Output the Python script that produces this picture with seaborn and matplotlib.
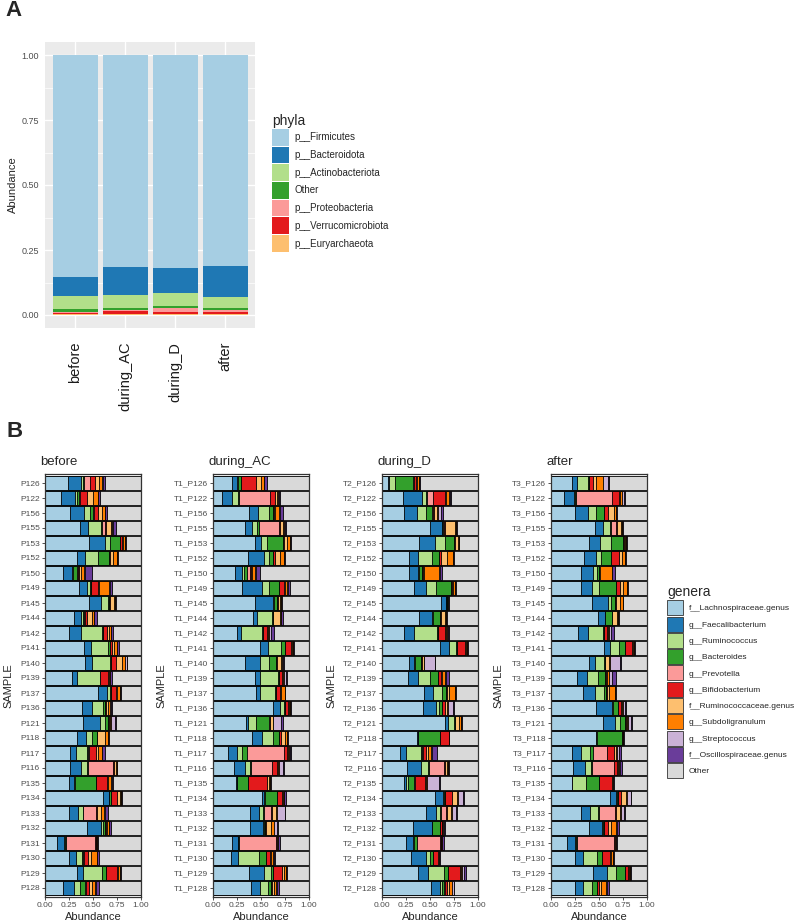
import numpy as np
import pandas as pd
import matplotlib
matplotlib.use("Agg")
import matplotlib.pyplot as plt
import seaborn as sns
from matplotlib.patches import Patch

sns.set_style("white")
plt.rcParams['font.family'] = ['Liberation Sans', 'DejaVu Sans']

# ---------------- Panel A data ----------------
conditions = ["before", "during_AC", "during_D", "after"]
phyla = ["p__Firmicutes", "p__Bacteroidota", "p__Actinobacteriota", "Other",
         "p__Proteobacteria", "p__Verrucomicrobiota", "p__Euryarchaeota"]
firmicutes = [0.853, 0.815, 0.818, 0.812]
bacteroidota = [0.073, 0.107, 0.097, 0.117]
actinobacteriota = [0.051, 0.050, 0.049, 0.044]
phyla_other = [0.010, 0.010, 0.010, 0.007]
proteobacteria = [0.005, 0.004, 0.013, 0.007]
verrucomicrobiota = [0.003, 0.012, 0.010, 0.010]
euryarchaeota = [0.005, 0.002, 0.003, 0.003]
phyla_colors = ["#A6CEE3", "#1F78B4", "#B2DF8A", "#33A02C", "#FB9A99", "#E31A1C", "#FDBF6F"]

# ---------------- Panel B data ----------------
samples = ["P126", "P122", "P156", "P155", "P153", "P152", "P150", "P149", "P145", "P144",
           "P142", "P141", "P140", "P139", "P137", "P136", "P121", "P118", "P117", "P116",
           "P135", "P134", "P133", "P132", "P131", "P130", "P129", "P128"]
genera = ["f__Lachnospiraceae.genus", "g__Faecalibacterium", "g__Ruminococcus", "g__Bacteroides",
          "g__Prevotella", "g__Bifidobacterium", "f__Ruminococcaceae.genus", "g__Subdoligranulum",
          "g__Streptococcus", "f__Oscillospiraceae.genus", "Other"]
genera_colors = ["#A6CEE3", "#1F78B4", "#B2DF8A", "#33A02C", "#FB9A99", "#E31A1C",
                 "#FDBF6F", "#FF7F00", "#CAB2D6", "#6A3D9A", "#D9D9D9"]
facet_prefix = ["", "T1_", "T2_", "T3_"]

# columns: Lachno, Faecali, Rumino, Bacteroides, Prevotella, Bifido, Ruminococcaceae, Subdoligranulum, Strepto, Oscillo
before_vals = [
    [.24, .14, .02, .01, .06, .05, .045, .03, .005, .02],
    [.17, .14, .025, .02, .005, .08, .055, .055, .0, .02],
    [.26, .15, .06, .03, .01, .04, .04, .04, .0, .02],
    [.36, .09, .13, .01, .04, .01, .045, .01, .01, .03],
    [.46, .16, .06, .10, .0, .02, .01, .02, .0, .01],
    [.33, .09, .13, .12, .0, .01, .03, .045, .0, .01],
    [.19, .09, .01, .04, .01, .01, .03, .03, .01, .07],
    [.355, .085, .03, .01, .0, .07, .01, .11, .005, .025],
    [.46, .12, .08, .005, .0, .01, .04, .015, .0, .01],
    [.30, .07, .03, .01, .01, .02, .05, .025, .0, .025],
    [.25, .12, .22, .01, .0, .05, .015, .02, .0, .02],
    [.41, .07, .18, .015, .0, .02, .02, .03, .0, .025],
    [.42, .07, .19, .005, .0, .05, .065, .03, .02, .005],
    [.285, .05, .235, .005, .0, .08, .01, .01, .0, .02],
    [.55, .095, .03, .01, .0, .05, .015, .03, .0, .01],
    [.39, .095, .12, .015, .0, .02, .02, .02, .005, .015],
    [.40, .17, .05, .04, .0, .005, .01, .01, .04, .01],
    [.33, .10, .055, .055, .0, .005, .08, .035, .0, .01],
    [.265, .055, .12, .01, .005, .075, .02, .04, .005, .03],
    [.265, .105, .07, .005, .26, .015, .015, .01, .0, .01],
    [.245, .055, .01, .225, .0, .115, .01, .03, .005, .015],
    [.605, .06, .005, .015, .0, .065, .035, .01, .0, .005],
    [.25, .095, .05, .005, .135, .01, .04, .03, .005, .035],
    [.44, .145, .015, .025, .0, .01, .015, .015, .005, .02],
    [.13, .065, .015, .005, .31, .01, .0, .005, .0, .01],
    [.25, .07, .07, .01, .01, .04, .03, .06, .005, .02],
    [.33, .07, .19, .05, .0, .11, .01, .02, .005, .01],
    [.19, .11, .06, .06, .005, .03, .03, .04, .005, .03],
]
during_AC_vals = [
    [.20, .055, .01, .025, .005, .15, .05, .035, .005, .03],
    [.095, .10, .07, .01, .32, .055, .015, .015, .01, .01],
    [.38, .09, .115, .035, .0, .015, .015, .035, .01, .03],
    [.33, .08, .05, .02, .21, .005, .035, .01, .005, .02],
    [.44, .06, .065, .165, .0, .005, .035, .035, .0, .01],
    [.36, .17, .055, .045, .0, .02, .05, .04, .0, .01],
    [.23, .075, .015, .03, .04, .01, .01, .03, .005, .045],
    [.305, .21, .07, .105, .0, .045, .015, .025, .01, .02],
    [.44, .19, .01, .025, .0, .01, .025, .01, .0, .01],
    [.42, .04, .15, .01, .0, .01, .07, .01, .0, .015],
    [.255, .035, .225, .01, .0, .035, .01, .01, .02, .04],
    [.49, .085, .13, .05, .0, .055, .01, .015, .0, .005],
    [.335, .155, .095, .07, .0, .015, .035, .01, .01, .01],
    [.435, .05, .195, .01, .0, .03, .01, .01, .025, .01],
    [.445, .04, .16, .01, .0, .04, .01, .04, .005, .005],
    [.62, .08, .04, .01, .0, .035, .01, .01, .0, .005],
    [.34, .02, .085, .14, .005, .005, .025, .005, .08, .02],
    [.41, .105, .105, .07, .0, .015, .04, .025, .0, .01],
    [.155, .10, .05, .05, .385, .035, .01, .01, .005, .01],
    [.22, .115, .05, .01, .22, .055, .01, .01, .04, .01],
    [.235, .01, .005, .115, .0, .20, .015, .01, .0, .01],
    [.515, .015, .01, .13, .0, .05, .01, .01, .0, .02],
    [.385, .095, .045, .01, .07, .01, .04, .015, .075, .01],
    [.39, .13, .01, .01, .005, .01, .05, .035, .025, .01],
    [.20, .06, .005, .01, .385, .01, .005, .005, .0, .015],
    [.185, .075, .22, .07, .005, .035, .015, .02, .015, .01],
    [.37, .16, .07, .02, .0, .10, .02, .02, .0, .01],
    [.40, .085, .085, .03, .005, .01, .02, .02, .01, .02],
]
during_D_vals = [
    [.065, .01, .065, .18, .01, .025, .01, .025, .0, .01],
    [.22, .20, .04, .005, .07, .12, .01, .03, .01, .01],
    [.225, .14, .095, .065, .005, .015, .03, .01, .03, .02],
    [.505, .12, .005, .01, .005, .015, .10, .015, .0, .01],
    [.39, .16, .105, .10, .0, .01, .025, .01, .0, .005],
    [.28, .095, .145, .07, .005, .02, .06, .065, .0, .005],
    [.28, .095, .01, .03, .005, .005, .01, .16, .005, .03],
    [.335, .12, .11, .15, .0, .01, .01, .025, .0, .01],
    [.61, .055, .005, .005, .0, .005, .005, .005, .0, .005],
    [.39, .13, .01, .075, .0, .005, .05, .01, .0, .01],
    [.225, .11, .24, .005, .0, .075, .015, .01, .005, .01],
    [.60, .095, .08, .01, .0, .075, .015, .015, .0, .005],
    [.28, .05, .01, .07, .0, .005, .02, .005, .11, .005],
    [.27, .11, .125, .08, .0, .03, .015, .025, .015, .03],
    [.435, .095, .095, .045, .0, .01, .015, .07, .0, .005],
    [.43, .13, .03, .03, .01, .03, .015, .015, .045, .01],
    [.66, .03, .055, .015, .0, .005, .035, .02, .0, .01],
    [.365, .005, .005, .23, .0, .09, .0, .0, .0, .005],
    [.19, .065, .155, .01, .01, .03, .02, .035, .01, .05],
    [.265, .14, .075, .005, .16, .015, .015, .015, .0, .01],
    [.23, .025, .02, .06, .005, .11, .01, .01, .12, .01],
    [.55, .085, .01, .015, .0, .065, .06, .01, .05, .005],
    [.46, .10, .045, .01, .05, .01, .045, .01, .04, .01],
    [.32, .20, .005, .075, .005, .015, .01, .01, .005, .015],
    [.255, .07, .01, .025, .24, .01, .005, .01, .005, .02],
    [.305, .155, .04, .03, .005, .045, .01, .005, .0, .01],
    [.38, .10, .17, .035, .0, .125, .01, .01, .02, .02],
    [.515, .085, .03, .015, .01, .02, .025, .025, .02, .01],
]
after_vals = [
    [.22, .055, .11, .01, .005, .035, .03, .075, .05, .01],
    [.14, .10, .005, .015, .375, .07, .01, .025, .025, .01],
    [.25, .14, .075, .085, .0, .045, .06, .025, .0, .01],
    [.455, .085, .07, .01, .055, .01, .04, .01, .0, .01],
    [.395, .12, .11, .13, .0, .005, .01, .01, .005, .01],
    [.34, .13, .05, .105, .0, .08, .03, .035, .0, .01],
    [.315, .12, .045, .015, .005, .005, .01, .12, .005, .025],
    [.315, .115, .075, .175, .0, .035, .03, .045, .005, .01],
    [.43, .16, .04, .04, .0, .01, .035, .03, .0, .01],
    [.49, .07, .005, .07, .0, .005, .045, .01, .0, .015],
    [.285, .105, .15, .01, .0, .035, .01, .01, .025, .025],
    [.555, .055, .095, .07, .0, .07, .01, .01, .0, .005],
    [.395, .06, .095, .01, .0, .005, .04, .01, .105, .005],
    [.275, .10, .11, .075, .0, .01, .015, .015, .04, .035],
    [.33, .125, .10, .015, .0, .015, .015, .07, .0, .01],
    [.465, .17, .01, .05, .0, .03, .01, .01, .03, .01],
    [.545, .125, .045, .055, .0, .01, .015, .01, .03, .01],
    [.465, .005, .005, .265, .0, .01, .0, .005, .0, .005],
    [.22, .095, .095, .03, .145, .075, .015, .01, .025, .02],
    [.23, .12, .07, .01, .225, .035, .01, .01, .01, .02],
    [.215, .005, .145, .14, .0, .135, .01, .0, .0, .005],
    [.61, .07, .01, .01, .0, .03, .05, .01, .04, .005],
    [.315, .09, .085, .01, .17, .01, .035, .01, .035, .015],
    [.395, .14, .005, .01, .0, .04, .035, .05, .01, .02],
    [.17, .085, .005, .015, .385, .01, .005, .005, .0, .01],
    [.25, .085, .145, .055, .0, .08, .01, .02, .0, .01],
    [.44, .145, .095, .09, .0, .03, .01, .01, .005, .01],
    [.255, .08, .095, .05, .0, .02, .025, .05, .005, .025],
]
facet_data = [before_vals, during_AC_vals, during_D_vals, after_vals]

GREY30 = "#4D4D4D"
GREY20 = "#333333"
W, H = 800, 923
fig = plt.figure(figsize=(W / 100, H / 100), dpi=100)


def fx(px):
    return px / W


def fy(py):
    return 1 - py / H


# ---------------- Panel A ----------------
axA = fig.add_axes([fx(45), fy(328), fx(210), (328 - 42) / H])
phyla_table = pd.DataFrame({
    "condition": conditions,
    "p__Firmicutes": firmicutes, "p__Bacteroidota": bacteroidota,
    "p__Actinobacteriota": actinobacteriota, "Other": phyla_other,
    "p__Proteobacteria": proteobacteria, "p__Verrucomicrobiota": verrucomicrobiota,
    "p__Euryarchaeota": euryarchaeota,
})
bottom_to_top = phyla[::-1]
cumA = phyla_table[bottom_to_top].cumsum(axis=1)
for name, col in zip(phyla, phyla_colors):
    sns.barplot(x=phyla_table["condition"], y=cumA[name], order=conditions, color=col,
                saturation=1, width=0.9, errorbar=None, linewidth=0, ax=axA)
axA.set_facecolor("#EBEBEB")
axA.set_axisbelow(True)
for s in axA.spines.values():
    s.set_visible(False)
axA.set_xlim(-0.6, 3.6)
axA.set_ylim(-0.05, 1.05)
axA.set_yticks([0, 0.25, 0.5, 0.75, 1.0])
axA.set_yticklabels(["0.00", "0.25", "0.50", "0.75", "1.00"])
axA.set_yticks([0.125, 0.375, 0.625, 0.875], minor=True)
axA.grid(True, which="major", color="white", linewidth=1.0)
axA.grid(True, which="minor", axis="y", color="white", linewidth=0.5)
axA.tick_params(axis="y", which="major", length=3, width=0.6, color=GREY20,
                labelsize=6.5, labelcolor=GREY30, pad=1.5)
axA.tick_params(axis="y", which="minor", length=0)
axA.tick_params(axis="x", length=3, width=0.6, color=GREY20, labelsize=10.5,
                labelcolor="#1A1A1A", pad=7)
for lab in axA.get_xticklabels():
    lab.set_rotation(90)
    lab.set_va("top")
    lab.set_ha("center")
axA.set_xlabel("")
axA.set_ylabel("Abundance", fontsize=8)
axA.yaxis.set_label_coords((13 - 45) / 210, 0.5)
axA.yaxis.label.set_va("center")

handlesA = [Patch(facecolor=c, edgecolor="none", label=p) for p, c in zip(phyla, phyla_colors)]
legA = fig.legend(handles=handlesA, title="phyla", loc="upper left",
                  bbox_to_anchor=(fx(272), fy(114)), frameon=False, fontsize=7,
                  title_fontsize=10, handlelength=1.75, handleheight=2.27,
                  labelspacing=0.1, handletextpad=0.6, borderpad=0, borderaxespad=0)
legA._legend_box.align = "left"

# ---------------- Panel B ----------------
facet_left = [45, 213, 382, 551]
sample_label_x = [8, 161, 331, 498]
top_px, bot_px = 474, 897
for i, (cond, vals, pre) in enumerate(zip(conditions, facet_data, facet_prefix)):
    ax = fig.add_axes([fx(facet_left[i]), fy(bot_px), fx(96), (bot_px - top_px) / H])
    labels = [pre + s for s in samples]
    arr = np.array(vals, dtype=float)
    other = 1 - arr.sum(axis=1)
    full = np.column_stack([arr, other])
    df = pd.DataFrame(full, columns=genera)
    df["SAMPLE"] = labels
    cum = df[genera].cumsum(axis=1)
    for j in range(len(genera) - 1, -1, -1):
        sns.barplot(x=cum[genera[j]], y=df["SAMPLE"], order=labels, orient="h",
                    color=genera_colors[j], saturation=1, width=0.9, errorbar=None,
                    edgecolor="black", linewidth=0.6, ax=ax)
    ax.set_xlim(0, 1)
    ax.set_ylim(len(samples) - 0.4, -0.6)
    ax.set_xticks([0, 0.25, 0.5, 0.75, 1.0])
    ax.set_xticklabels(["0.00", "0.25", "0.50", "0.75", "1.00"])
    ax.tick_params(axis="both", length=2.5, width=0.6, color=GREY20, labelsize=6,
                   labelcolor=GREY30, pad=1.2)
    ax.tick_params(axis="x", bottom=True)
    ax.tick_params(axis="y", left=True)
    for s in ax.spines.values():
        s.set_visible(True)
        s.set_color(GREY20)
        s.set_linewidth(0.9)
    ax.set_xlabel("Abundance", fontsize=8)
    ax.xaxis.set_label_coords(0.5, (bot_px - 917) / (bot_px - top_px))
    ax.xaxis.label.set_va("center")
    ax.set_ylabel("SAMPLE", fontsize=8)
    ax.yaxis.set_label_coords((sample_label_x[i] - facet_left[i]) / 96, 0.5)
    ax.yaxis.label.set_va("center")
    ax.text(-0.05, (bot_px - 462) / (bot_px - top_px), cond, transform=ax.transAxes,
            ha="left", va="center", fontsize=9.5)

handlesB = [Patch(facecolor=c, edgecolor="#333333", linewidth=0.6, label=g)
            for g, c in zip(genera, genera_colors)]
legB = fig.legend(handles=handlesB, title="genera", loc="upper left",
                  bbox_to_anchor=(fx(667), fy(585)), frameon=False, fontsize=6,
                  title_fontsize=10, handlelength=1.9, handleheight=2.4,
                  labelspacing=0.15, handletextpad=0.7, borderpad=0, borderaxespad=0)
legB._legend_box.align = "left"

fig.text(fx(5), fy(11), "A", fontsize=16, fontweight="bold", va="center", ha="left")
fig.text(fx(6), fy(432), "B", fontsize=16, fontweight="bold", va="center", ha="left")

fig.savefig("out.png", dpi=100)
